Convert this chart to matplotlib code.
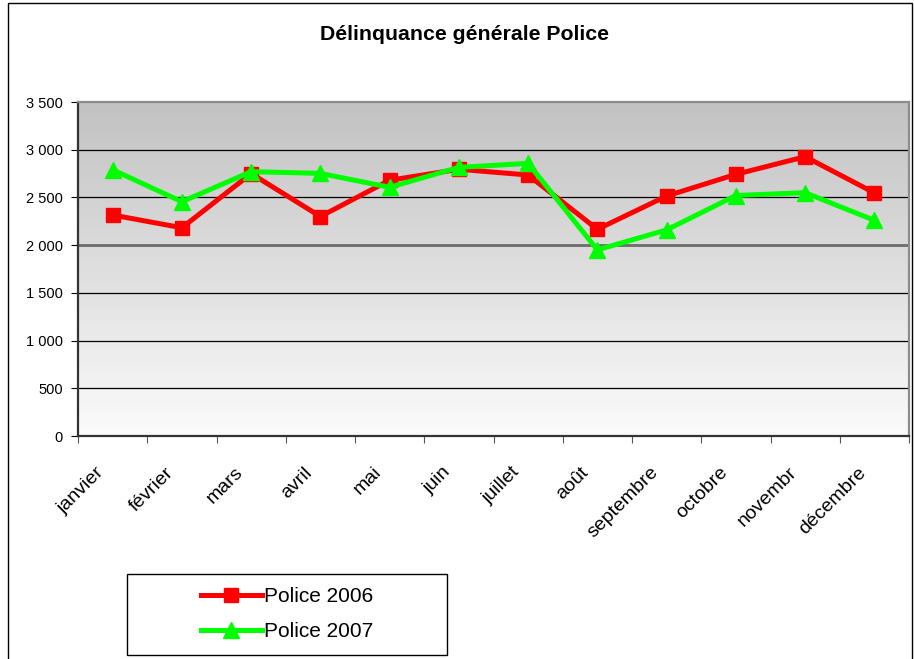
import matplotlib
matplotlib.use("Agg")
import matplotlib.pyplot as plt
import matplotlib.transforms as mtransforms
import numpy as np
from matplotlib.patches import Rectangle
from matplotlib.lines import Line2D

months = ["janvier", "février", "mars", "avril", "mai", "juin", "juillet",
          "août", "septembre", "octobre", "novembr", "décembre"]
police_2006 = [2316, 2182, 2750, 2300, 2680, 2795, 2735, 2166, 2515, 2742, 2927, 2548]
police_2007 = [2790, 2455, 2770, 2752, 2606, 2815, 2857, 1950, 2160, 2520, 2550, 2260]
y_ticks = [0, 500, 1000, 1500, 2000, 2500, 3000, 3500]
y_labels = ["0", "500", "1 000", "1 500", "2 000", "2 500", "3 000", "3 500"]

plt.rcParams["font.family"] = ["Liberation Sans", "DejaVu Sans"]

W, H = 914, 659
fig = plt.figure(figsize=(W / 100, H / 100), dpi=100)
fig.patch.set_facecolor("white")

# outer chart frame (cut at the bottom as in the original)
fig.add_artist(Rectangle((8 / W, -0.05), 904 / W, 1.05 - 3 / H,
                         transform=fig.transFigure, fill=False,
                         edgecolor="black", linewidth=1.0))

ax = fig.add_axes([78 / W, 1 - 436 / H, (909 - 78) / W, (436 - 102) / H])

# grey gradient background
grad = np.linspace(0, 1, 256).reshape(-1, 1)
top = np.array([0.76, 0.76, 0.76])
bottom = np.array([0.985, 0.985, 0.985])
img = top + (bottom - top) * grad[..., None]
ax.imshow(img, extent=[0, 1, 0, 1], transform=ax.transAxes,
          aspect="auto", zorder=0, origin="upper")

x = np.arange(len(months))
ax.plot(x, police_2006, color="#ff0000", lw=3.6, marker="s", ms=10,
        mec="#ff0000", zorder=3)
ax.plot(x, police_2007, color="#00ff00", lw=3.6, marker="^", ms=11,
        mec="#00ff00", zorder=4)

ax.set_xlim(-0.5, len(months) - 0.5)
ax.set_ylim(0, 3500)
ax.set_yticks(y_ticks)
ax.set_yticklabels(y_labels, fontsize=10.5)
for v in y_ticks[1:-1]:
    ax.axhline(v, color="black", lw=0.9, zorder=1)
ax.axhline(2000, color="#6e6e6e", lw=2.0, zorder=1)

ax.set_xticks(np.arange(-0.5, len(months), 1.0))
ax.set_xticklabels([])
ax.set_xticks(x, minor=True)
ax.set_xticklabels(months, minor=True, fontsize=14, rotation=45,
                   ha="right", va="top", rotation_mode="anchor")
ax.tick_params(axis="x", which="minor", length=0, pad=20)
ax.tick_params(axis="x", which="major", length=5, direction="out", color="#555555")
ax.tick_params(axis="y", length=5, direction="out", pad=6)
offset = mtransforms.ScaledTranslation(-0.17, 0, fig.dpi_scale_trans)
for lab in ax.get_xticklabels(minor=True):
    lab.set_transform(lab.get_transform() + offset)

for side in ["left", "bottom"]:
    ax.spines[side].set_color("#333333")
    ax.spines[side].set_linewidth(1.6)
for side in ["top", "right"]:
    ax.spines[side].set_color("#8c8c8c")
    ax.spines[side].set_linewidth(1.6)

fig.text(464 / W, 1 - 35 / H, "Délinquance générale Police", ha="center",
         va="center", fontsize=15.3, fontweight="bold")

# legend box
fig.add_artist(Rectangle((127 / W, 1 - 655 / H), 320 / W, 81 / H,
                         transform=fig.transFigure, fill=False,
                         edgecolor="black", linewidth=1.0))
handles = [Line2D([], [], color="#ff0000", lw=3.6, marker="s", ms=10),
           Line2D([], [], color="#00ff00", lw=3.6, marker="^", ms=11)]
fig.legend(handles, ["Police 2006", "Police 2007"], loc="center",
           bbox_to_anchor=(287 / W, 1 - 614 / H), frameon=False,
           fontsize=15, handlelength=2.9, handletextpad=0.1, labelspacing=0.75)

fig.savefig("out.png", dpi=100)
